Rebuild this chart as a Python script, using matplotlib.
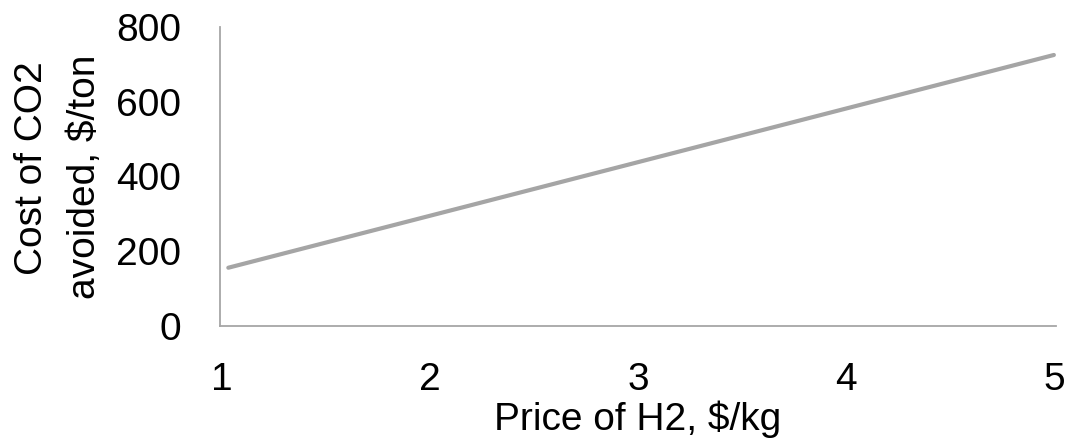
import numpy as np
import matplotlib as mpl
import matplotlib.pyplot as plt

# data
price_h2 = [1.03, 5.0]
cost_co2 = [155, 725]
xticks = [1, 2, 3, 4, 5]
yticks = [0, 200, 400, 600, 800]

# configuration
mpl.rcParams['font.family'] = 'Liberation Sans'
mpl.rcParams['font.size'] = 28

fig = plt.figure(figsize=(10.69, 4.46), dpi=100)
ax = fig.add_axes([0.2058, 0.270, 0.7820, 0.6695])

ax.plot(price_h2, cost_co2, color='#A5A5A5', linewidth=3.0, solid_capstyle='round')

ax.set_xlim(0.99, 5.01)
ax.set_ylim(0, 800)
ax.set_xticks(xticks)
ax.set_yticks(yticks)

for s in ['top', 'right']:
    ax.spines[s].set_visible(False)
for s in ['left', 'bottom']:
    ax.spines[s].set_color('#A6A6A6')
    ax.spines[s].set_linewidth(1.3)

ax.tick_params(axis='both', length=0, labelsize=28)
ax.tick_params(axis='y', pad=28)
ax.tick_params(axis='x', pad=26)

# labels
ax.set_xlabel('Price of H2, $/kg', fontsize=28, va='baseline')
ax.xaxis.set_label_coords(0.5, -(430 - 325.5) / 298.5)
fig.text(32 / 1069, 1 - 168 / 446, 'Cost of CO2', rotation=90,
         ha='center', va='center', fontsize=28)
fig.text(85 / 1069, 1 - 177 / 446, 'avoided, $/ton', rotation=90,
         ha='center', va='center', fontsize=28)

plt.savefig('out.png', dpi=100)
